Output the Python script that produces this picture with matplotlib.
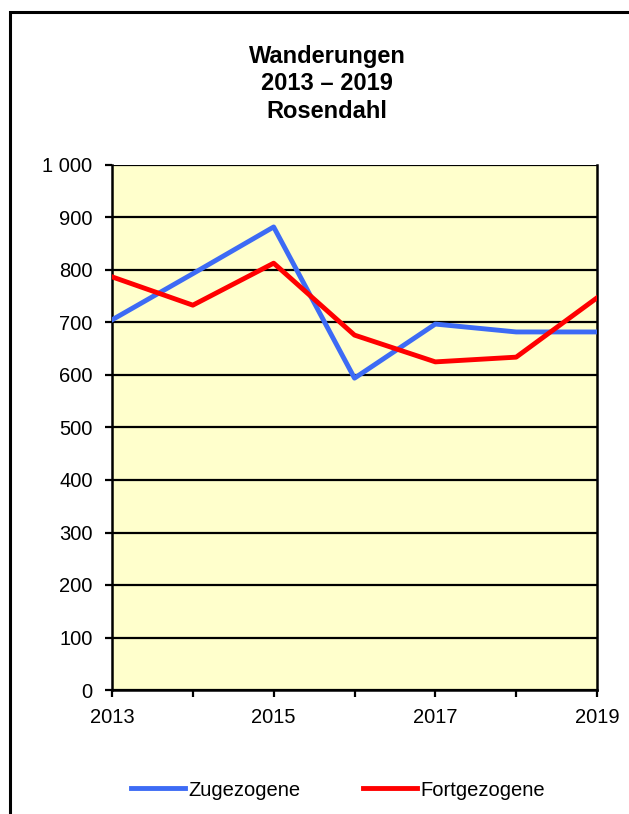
import matplotlib.pyplot as plt
from matplotlib.patches import Rectangle

# ==================================================
# DATA
# ==================================================
years = [2013, 2014, 2015, 2016, 2017, 2018, 2019]
zugezogene = [705, 793, 882, 594, 697, 682, 682]
fortgezogene = [787, 733, 813, 676, 625, 634, 747]
y_ticks = [0, 100, 200, 300, 400, 500, 600, 700, 800, 900, 1000]
y_tick_labels = ["0", "100", "200", "300", "400", "500", "600", "700", "800", "900", "1 000"]
x_tick_labels = ["2013", "", "2015", "", "2017", "", "2019"]

plt.rcParams['font.family'] = ['Liberation Sans', 'DejaVu Sans']

fig = plt.figure(figsize=(6.29, 8.14), dpi=100)
fig.patch.set_facecolor('white')

# outer frame (cut off at right and bottom)
fig.patches.append(Rectangle((9.5 / 629, -0.05), 1.0, 1 - 11.5 / 814 + 0.05,
                             transform=fig.transFigure, fill=False,
                             edgecolor='black', linewidth=2.2))

ax = fig.add_axes([112 / 629, 124 / 814, 485 / 629, 525 / 814])
ax.set_facecolor('#FFFFCC')

ax.plot(years, zugezogene, color='#3D6BF5', linewidth=3.5, label='Zugezogene', zorder=3)
ax.plot(years, fortgezogene, color='#FF0000', linewidth=3.5, label='Fortgezogene', zorder=4)

ax.set_xlim(2013, 2019)
ax.set_ylim(0, 1000)
ax.set_yticks(y_ticks)
ax.set_yticklabels(y_tick_labels, fontsize=14.5)
ax.set_xticks(years)
ax.set_xticklabels(x_tick_labels, fontsize=14.5)

ax.grid(axis='y', color='black', linewidth=1.6, zorder=1)
ax.set_axisbelow(True)
for s in ['left', 'bottom', 'right']:
    ax.spines[s].set_linewidth(1.8)
ax.spines['top'].set_visible(False)
ax.tick_params(axis='y', direction='out', length=5, width=1.6, pad=9)
ax.tick_params(axis='x', direction='out', length=5, width=1.6, pad=8)

fig.text(327 / 629, 1 - 84 / 814, "Wanderungen\n2013 – 2019\nRosendahl", ha='center', va='center',
         fontsize=17, fontweight='bold', linespacing=1.25)

fig.legend(loc='center', bbox_to_anchor=(338 / 629, 1 - 790 / 814), ncol=2, frameon=False,
           fontsize=14.5, handlelength=2.7, handletextpad=0.15, columnspacing=3.1)

fig.savefig('out.png', dpi=100)
